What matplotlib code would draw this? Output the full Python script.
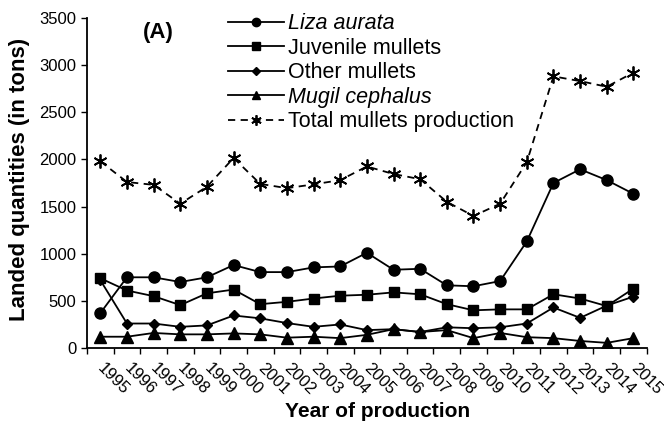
import numpy as np
import matplotlib.pyplot as plt
import matplotlib.transforms as mtransforms

plt.rcParams['font.family'] = ['Liberation Sans', 'DejaVu Sans']

years = [str(y) for y in range(1995, 2016)]

liza = [370, 750, 750, 700, 750, 880, 805, 805, 855, 865, 1010,
        830, 840, 665, 655, 710, 1130, 1750, 1895, 1780, 1635]
juvenile = [740, 610, 550, 455, 580, 620, 465, 490, 525, 555, 565,
            590, 570, 465, 400, 410, 410, 570, 525, 445, 630]
other = [720, 260, 260, 225, 240, 345, 315, 265, 225, 250, 190,
         200, 170, 220, 210, 220, 260, 430, 320, 450, 545]
mugil = [120, 120, 160, 145, 145, 155, 145, 110, 120, 105, 140,
         200, 170, 190, 105, 160, 115, 105, 75, 55, 105]
total = [1980, 1760, 1730, 1530, 1710, 2015, 1740, 1695, 1735, 1780, 1925,
         1845, 1790, 1550, 1400, 1530, 1970, 2880, 2830, 2770, 2920]

fig = plt.figure(figsize=(6.64, 4.26), dpi=100)
ax = fig.add_axes([0.131, 0.183, 0.843, 0.775])

x = np.arange(len(years))
ax.plot(x, liza, '-', color='black', lw=1.3, marker='o', ms=8,
        label='Liza aurata')
ax.plot(x, juvenile, '-', color='black', lw=1.3, marker='s', ms=7.5,
        label='Juvenile mullets')
ax.plot(x, other, '-', color='black', lw=1.3, marker='D', ms=5.5,
        label='Other mullets')
ax.plot(x, mugil, '-', color='black', lw=1.3, marker='^', ms=8,
        label='Mugil cephalus')
ax.plot(x, total, '--', color='black', lw=1.3, dashes=(4, 3),
        marker=(6, 2, 0), ms=10, mew=1.3, label='Total mullets production')

ax.set_xlim(-0.5, len(years) - 0.5)
ax.set_ylim(0, 3500)
ax.set_yticks(np.arange(0, 3501, 500))
ax.tick_params(axis='y', labelsize=12, length=4, direction='out', width=1)

ax.set_xticks(np.arange(-0.5, len(years), 1.0))
ax.set_xticklabels([])
ax.tick_params(axis='x', which='major', length=4, direction='out', width=1)
ax.set_xticks(x, minor=True)
ax.set_xticklabels(years, minor=True, rotation=-45, ha='left', va='top',
                   rotation_mode='anchor', fontsize=12)
ax.tick_params(axis='x', which='minor', length=0, pad=9)
shift = mtransforms.ScaledTranslation(5 / 100, 0, fig.dpi_scale_trans)
for lab in ax.get_xticklabels(minor=True):
    lab.set_transform(lab.get_transform() + shift)

for s in ['top', 'right']:
    ax.spines[s].set_visible(False)
for s in ['left', 'bottom']:
    ax.spines[s].set_linewidth(1.3)

ax.set_ylabel('Landed quantities (in tons)', fontsize=16, fontweight='bold')
ax.yaxis.set_label_coords(-0.102, 0.51)
ax.set_xlabel('Year of production', fontsize=15, fontweight='bold')
ax.xaxis.set_label_coords(0.52, -0.164)

ax.text(0.1, 0.955, '(A)', transform=ax.transAxes, fontsize=16,
        fontweight='bold', va='center')

leg = ax.legend(loc='upper left', bbox_to_anchor=(0.236, 1.04),
                frameon=False, fontsize=15.5, handlelength=2.6,
                handletextpad=0.2, labelspacing=0.16, borderaxespad=0,
                markerscale=0.75)
leg.get_texts()[0].set_style('italic')
leg.get_texts()[3].set_style('italic')

fig.savefig('out.png', dpi=100)
